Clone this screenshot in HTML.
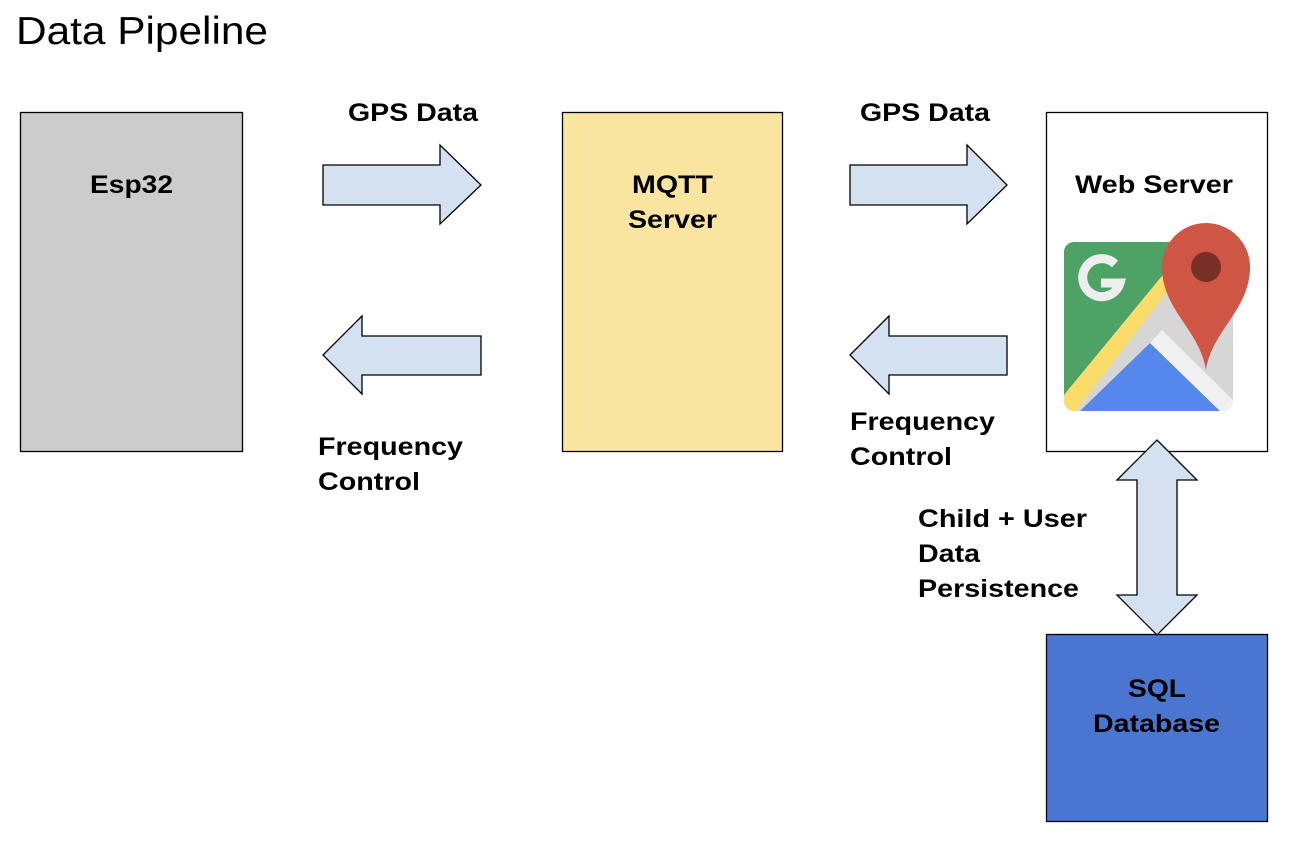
<!DOCTYPE html>
<html><head><meta charset="utf-8"><style>
html,body{margin:0;padding:0;background:#fff;}
svg{display:block;}
text{font-family:"Liberation Sans",sans-serif;}
.b{font-weight:bold;font-size:25px;fill:#000;}
</style></head><body>
<svg width="1300" height="844" viewBox="0 0 1300 844">
<text x="16" y="44" font-size="39" fill="#000" textLength="252" lengthAdjust="spacingAndGlyphs">Data Pipeline</text>
<rect x="20.5" y="112.5" width="222" height="339" fill="#cccccc" stroke="#000" stroke-width="1.3"/>
<rect x="562.5" y="112.5" width="220" height="339" fill="#f9e5a0" stroke="#000" stroke-width="1.3"/>
<rect x="1046.5" y="112.5" width="221" height="339" fill="#fff" stroke="#000" stroke-width="1.3"/>
<rect x="1046.5" y="634.5" width="221" height="187" fill="#4a76d2" stroke="#000" stroke-width="1.3"/>
<text class="b" x="90" y="193" textLength="83" lengthAdjust="spacingAndGlyphs">Esp32</text>
<text class="b" x="632" y="193" textLength="81" lengthAdjust="spacingAndGlyphs">MQTT</text>
<text class="b" x="628" y="228" textLength="89" lengthAdjust="spacingAndGlyphs">Server</text>
<text class="b" x="1075" y="193" textLength="158" lengthAdjust="spacingAndGlyphs">Web Server</text>
<text class="b" x="1128" y="697" textLength="58" lengthAdjust="spacingAndGlyphs">SQL</text>
<text class="b" x="1093" y="732" textLength="127" lengthAdjust="spacingAndGlyphs">Database</text>
<g fill="#d3e1f1" stroke="#000" stroke-width="1.3" stroke-linejoin="miter">
<polygon points="323,165 440,165 440,145 481,185 440,224 440,205 323,205"/>
<polygon points="481,336 362,336 362,316 323,355 362,394 362,375 481,375"/>
<polygon points="850,165 967,165 967,145 1007,185 967,224 967,205 850,205"/>
<polygon points="1007,336 889,336 889,316 850,355 889,394 889,375 1007,375"/>
<polygon points="1157,440 1197,480 1177,480 1177,595 1197,595 1157,635 1117,595 1137,595 1137,480 1117,480"/>
</g>
<text class="b" x="348" y="121" textLength="130" lengthAdjust="spacingAndGlyphs">GPS Data</text>
<text class="b" x="860" y="121" textLength="130" lengthAdjust="spacingAndGlyphs">GPS Data</text>
<text class="b" x="318" y="455" textLength="145" lengthAdjust="spacingAndGlyphs">Frequency</text>
<text class="b" x="318" y="490" textLength="102" lengthAdjust="spacingAndGlyphs">Control</text>
<text class="b" x="850" y="430" textLength="145" lengthAdjust="spacingAndGlyphs">Frequency</text>
<text class="b" x="850" y="465" textLength="102" lengthAdjust="spacingAndGlyphs">Control</text>
<text class="b" x="918" y="527" textLength="169" lengthAdjust="spacingAndGlyphs">Child + User</text>
<text class="b" x="918" y="562" textLength="62" lengthAdjust="spacingAndGlyphs">Data</text>
<text class="b" x="918" y="597" textLength="161" lengthAdjust="spacingAndGlyphs">Persistence</text>
<defs><clipPath id="ic"><rect x="1064" y="242" width="169" height="169" rx="10"/></clipPath></defs>
<g clip-path="url(#ic)">
<rect x="1064" y="242" width="169" height="169" fill="#d6d6d6"/>
<polygon points="1064,242 1190,242 1064,395" fill="#4fa266"/>
<polygon points="1064,395 1190,242 1205,242 1076,411 1064,411" fill="#fbdc6a"/>
<polygon points="1080,411 1150,343 1220,411" fill="#5687ea"/>
<polygon points="1150,343 1162,330 1233,400 1233,411 1220,411" fill="#f0f0f0"/>
</g>
<path d="M1115,264 A19,19 0 1 0 1120,283 L1101,283" fill="none" stroke="#eeeeee" stroke-width="9"/>
<path d="M1206,370 C1200,330 1162,310 1162,267 A44,44 0 0 1 1250,267 C1250,310 1212,330 1206,370 Z" fill="#cf5545"/>
<circle cx="1206" cy="267" r="15" fill="#772f26"/>
</svg>
</body></html>
